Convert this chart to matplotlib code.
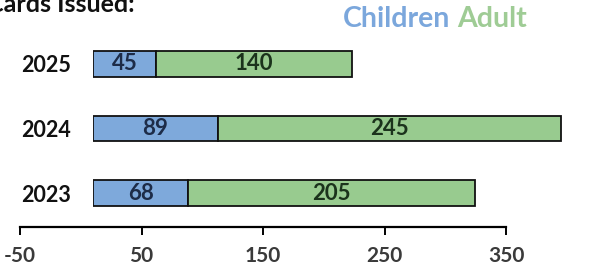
import matplotlib.pyplot as plt

plt.rcParams['font.family'] = ['Lato', 'DejaVu Sans']

years = ['2023', '2024', '2025']
children = [68, 89, 45]
adult = [205, 245, 140]
ticks = [-50, 50, 150, 250, 350]

blue = '#7ea9db'
green = '#98cb8f'

fig = plt.figure(figsize=(6, 2.75), dpi=100)
W, H = 600.0, 275.0

# bar area: 0 sits at x=93px, ~1.40 px per unit
ax = fig.add_axes([93 / W, (H - 225) / H, (W - 93) / W, 193 / H])
ypos = range(len(years))
ax.barh(ypos, children, height=0.40, color=blue, edgecolor='#111111', linewidth=1.3)
ax.barh(ypos, adult, left=children, height=0.40, color=green, edgecolor='#111111', linewidth=1.3)
for y, c, a in zip(ypos, children, adult):
    ax.text(c / 2, y, str(c), ha='center', va='center', fontsize=16,
            fontweight='bold', color='#1d2c48')
    ax.text(c + a / 2, y, str(a), ha='center', va='center', fontsize=16,
            fontweight='bold', color='#1b331c')
ax.set_xlim(0, (W - 93) / 1.40)
ax.set_ylim(-0.496, 2.496)
ax.set_yticks(list(ypos))
ax.set_yticklabels(years, fontsize=15.5, fontweight='bold', color='#111111')
ax.tick_params(axis='y', length=0, pad=15.8)
ax.set_xticks([])
for s in ax.spines.values():
    s.set_visible(False)

# separate value axis along the bottom
ax2 = fig.add_axes([20 / W, (H - 227) / H, 486 / W, 0.001])
ax2.set_xlim(-50, 350)
ax2.set_xticks(ticks)
ax2.set_xticklabels([str(t) for t in ticks], fontsize=15, fontweight='bold', color='#3a3a3a')
ax2.tick_params(axis='x', length=5.8, width=1.4, pad=8.0)
ax2.set_yticks([])
for k in ['top', 'left', 'right']:
    ax2.spines[k].set_visible(False)
ax2.spines['bottom'].set_linewidth(1.6)
ax2.patch.set_alpha(0)

fig.text(135 / W, (H - 12) / H, 'Cards Issued:', ha='right', va='baseline',
         fontsize=18, fontweight='bold', color='#111111')
fig.text(343 / W, (H - 27) / H, 'Children', ha='left', va='baseline',
         fontsize=20.5, fontweight='bold', color='#7ba7dc')
fig.text(457 / W, (H - 27) / H, 'Adult', ha='left', va='baseline',
         fontsize=20.5, fontweight='bold', color='#9fcc95')

fig.savefig('out.png', dpi=100)
